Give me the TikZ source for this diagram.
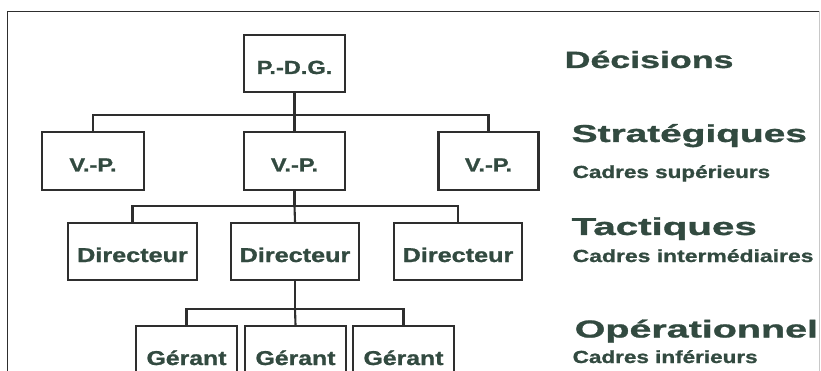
\documentclass[tikz,border=0pt]{standalone}
\usepackage{fontspec}
\setmainfont{Liberation Sans}[BoldFeatures={FakeBold=1}]
\usepackage{graphicx}
\definecolor{ink}{HTML}{324A40}
\definecolor{edge}{HTML}{2E2E2E}
\definecolor{rim}{HTML}{C8C8C8}
% horizontally widened text
\newcommand{\wide}[2]{\scalebox{#1}[1]{#2}}

\begin{document}
\begin{tikzpicture}[x=1pt,y=-1pt,
  boxa/.style={draw=edge, line width=2.1pt, inner sep=0pt, text=ink,
    text height=21pt, text depth=0pt, minimum height=57pt,
    font=\bfseries\fontsize{19}{19}\selectfont},
  boxb/.style={boxa, font=\bfseries\fontsize{20}{20}\selectfont},
  link/.style={draw=edge, line width=2.1pt},
  title/.style={anchor=base west, inner sep=0pt, text=ink,
    font=\bfseries\fontsize{24.5}{24.5}\selectfont},
  sub/.style={anchor=base west, inner sep=0pt, text=ink,
    font=\bfseries\fontsize{17.5}{17.5}\selectfont}]

\clip (0,0) rectangle (821,371);

% frame
\draw[edge, line width=1.5pt] (7.5,372) -- (7.5,11.5) -- (820,11.5);
\draw[rim, line width=1pt] (819.5,11.5) -- (819.5,372);

% hierarchy
\node[boxa, minimum width=101pt] (pdg) at (294.5,63.5) {\wide{1.24}{P.-D.G.}};

\node[boxa, minimum width=102pt, minimum height=58pt] (vp1) at (93,161) {\wide{1.24}{V.-P.}};
\node[boxa, minimum width=101pt, minimum height=58pt] (vp2) at (294.5,161) {\wide{1.24}{V.-P.}};
\node[boxa, minimum width=100pt, minimum height=58pt] (vp3) at (488.5,161) {\wide{1.24}{V.-P.}};

\node[boxb, minimum width=129pt] (d1) at (132.5,251.5) {\wide{1.26}{Directeur}};
\node[boxb, minimum width=128pt] (d2) at (295,251.5) {\wide{1.26}{Directeur}};
\node[boxb, minimum width=128pt] (d3) at (458,251.5) {\wide{1.26}{Directeur}};

\node[boxb, minimum width=101pt] (g1) at (186.5,354.5) {\wide{1.24}{Gérant}};
\node[boxb, minimum width=101pt] (g2) at (295.5,354.5) {\wide{1.24}{Gérant}};
\node[boxb, minimum width=101pt] (g3) at (403.5,354.5) {\wide{1.24}{Gérant}};

% connectors
\coordinate (b1) at (294.5,115);
\coordinate (b2) at (294.5,206);
\coordinate (b3) at (295,309);

\draw[link] (pdg.south) -- (b1);
\draw[link] (vp1.north) |- (b1) -| (vp3.north);
\draw[link] (b1) -- (vp2.north);

\draw[link] (vp2.south) -- (b2);
\draw[link] (d1.north) |- (b2) -| (d3.north);
\draw[link] (b2) -- (d2.north);

\draw[link] (d2.south) -- (b3);
\draw[link] (g1.north) |- (b3) -| (g3.north);
\draw[link] (b3) -- (g2.north);

% levels of decision
\node[title, font=\bfseries\fontsize{23.5}{23.5}\selectfont] (dec) at (564.5,68) {\wide{1.52}{Décisions}};
\node[title] (strat) at (571.5,142) {\wide{1.585}{Stratégiques}};
\node[sub] (cs) at (572.5,178) {\wide{1.285}{Cadres supérieurs}};
\node[title] (tact) at (571.5,235) {\wide{1.645}{Tactiques}};
\node[sub] (ci) at (572.5,262) {\wide{1.31}{Cadres intermédiaires}};
\node[title] (oper) at (574.5,337.5) {\wide{1.61}{Opérationnel}};
\node[sub] (cinf) at (572.5,363) {\wide{1.285}{Cadres inférieurs}};
\end{tikzpicture}
\end{document}
